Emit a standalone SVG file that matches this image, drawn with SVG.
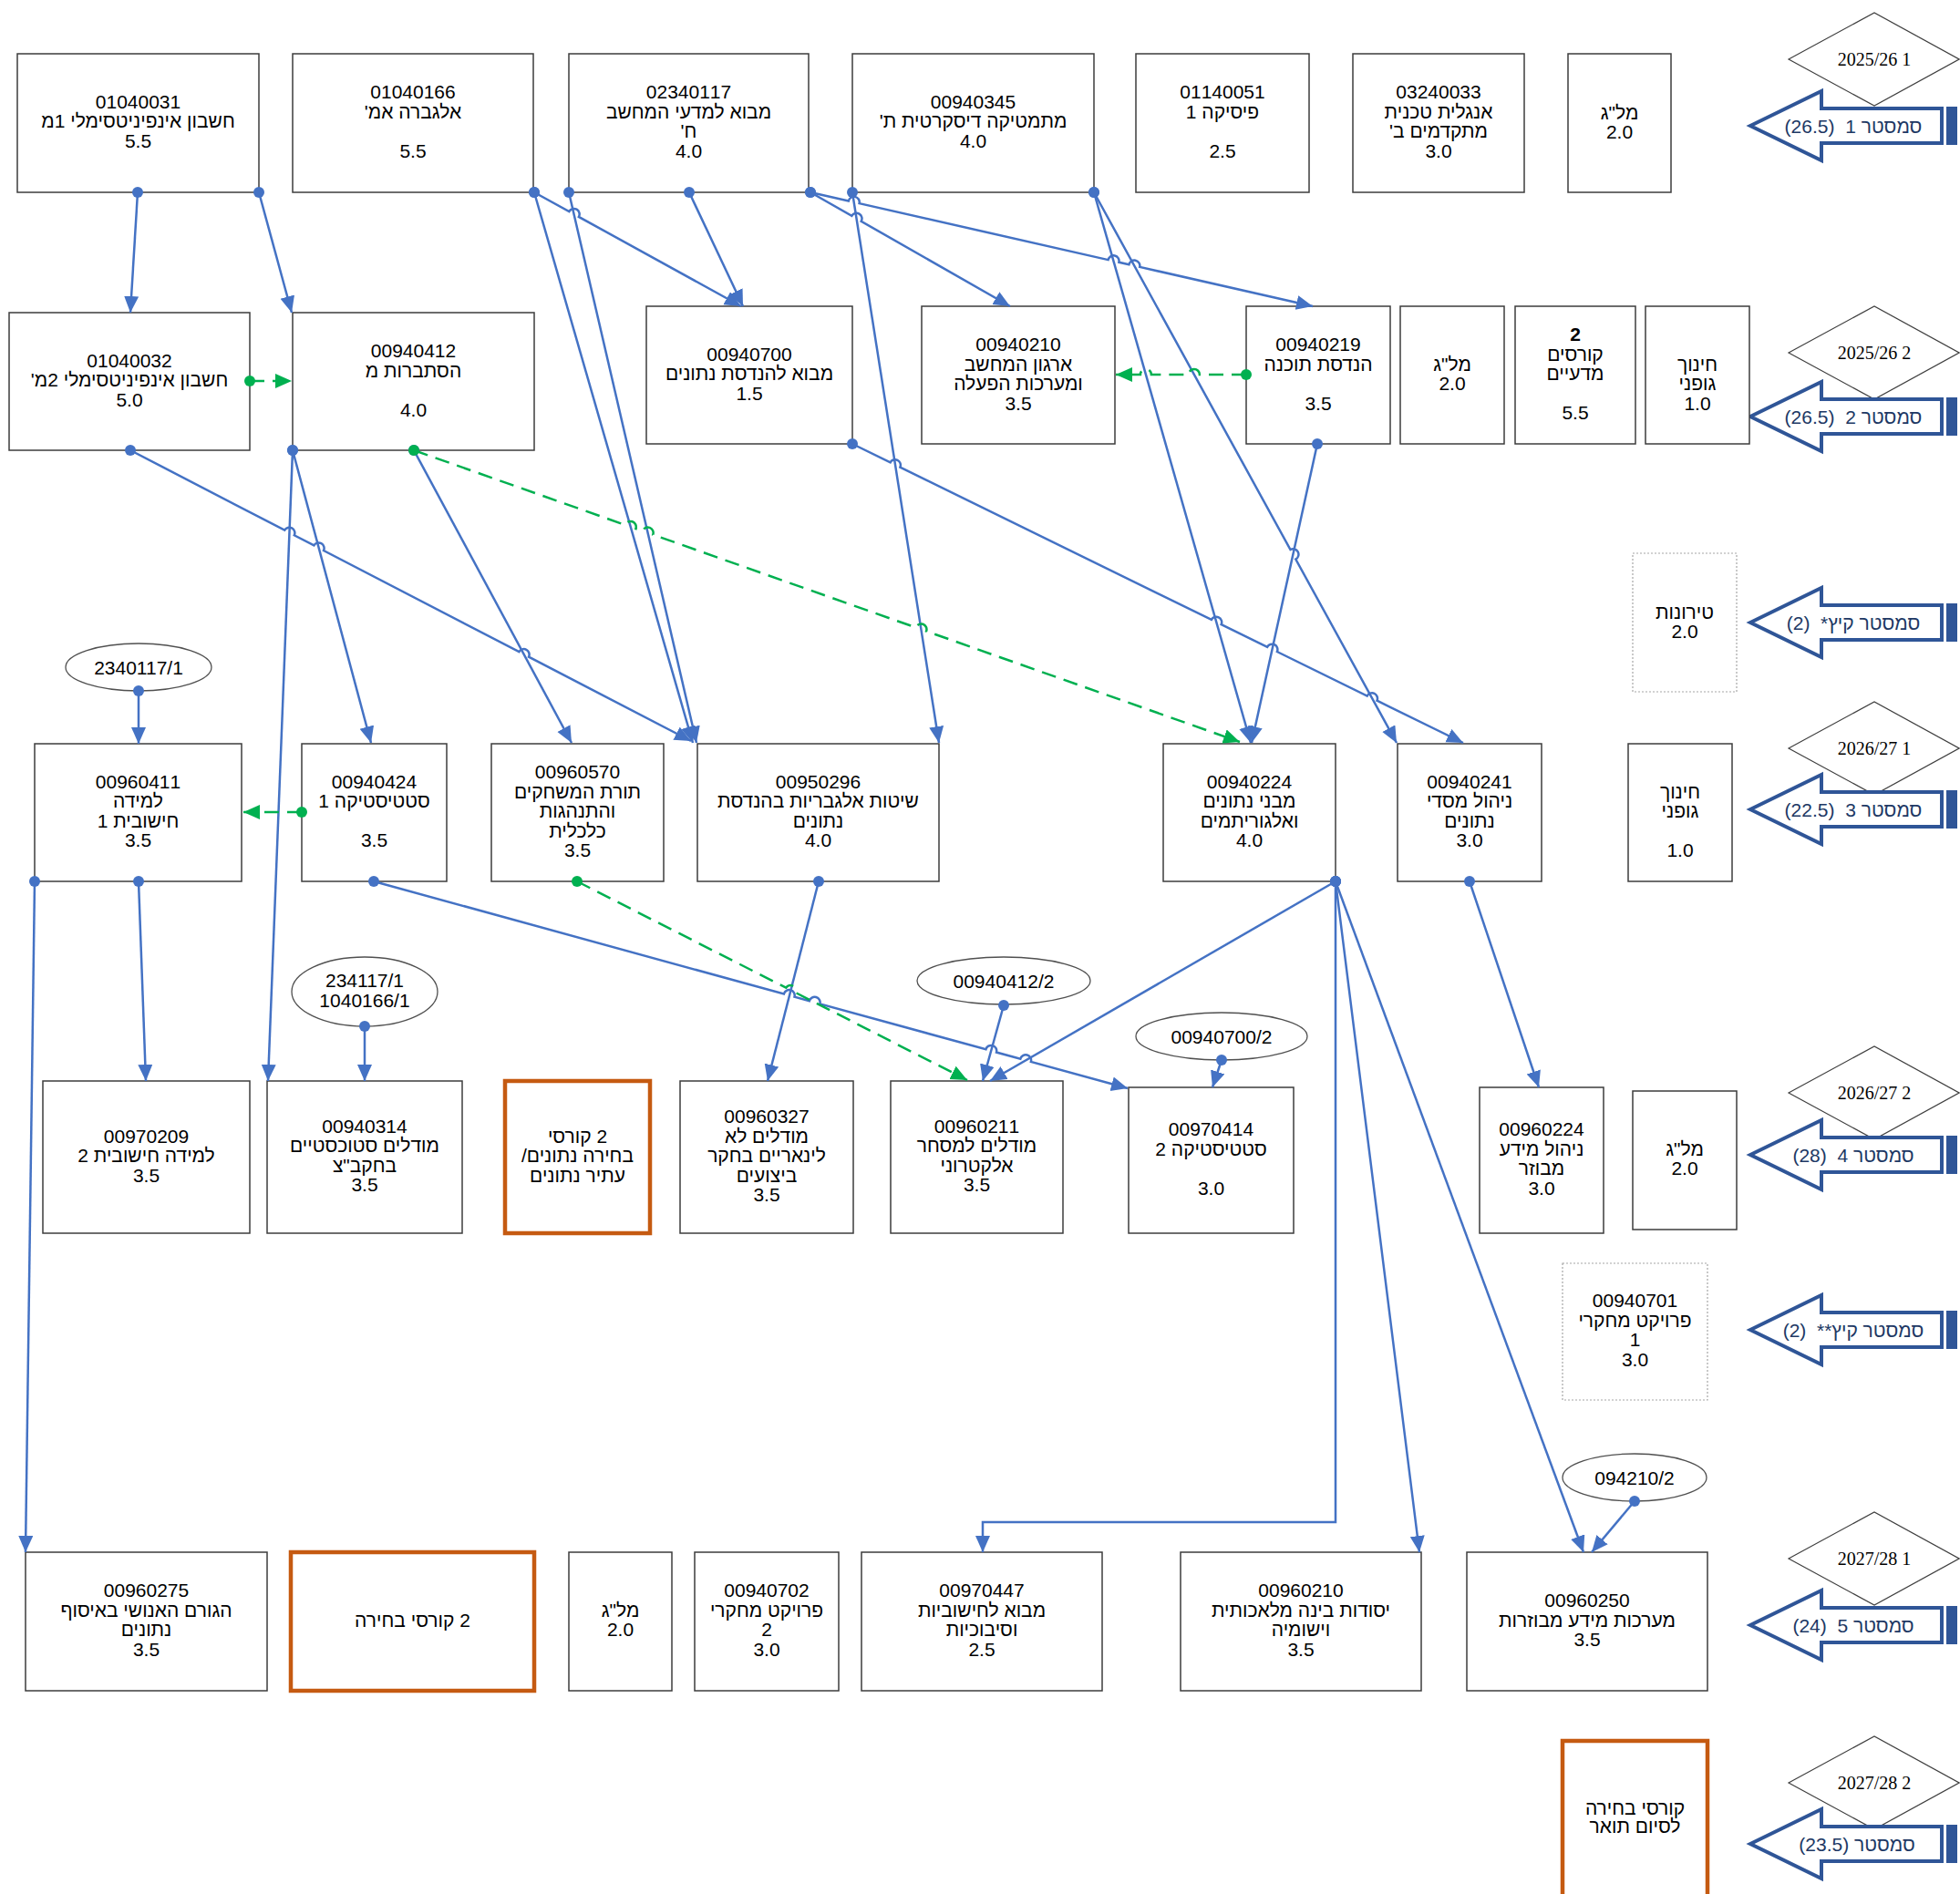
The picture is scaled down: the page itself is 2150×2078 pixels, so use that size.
<svg xmlns="http://www.w3.org/2000/svg" width="2150" height="2078" viewBox="0 0 2150 2078">
<style>
.b{fill:#fff;stroke:#3c3c3c;stroke-width:1.5}
.o{fill:#fff;stroke:#C55A11;stroke-width:4.5}
.d{fill:#fff;stroke:#a6a6a6;stroke-width:1.2;stroke-dasharray:2 2}
.t{font-family:"Liberation Sans",Arial,sans-serif;font-size:21px;fill:#000;text-anchor:middle;direction:rtl;unicode-bidi:embed}
.et{font-family:"Liberation Sans",Arial,sans-serif;font-size:21px;fill:#000;text-anchor:middle}
.bold{font-weight:bold}
.el{fill:#fff;stroke:#505050;stroke-width:1.3}
.c{fill:none;stroke:#4472C4;stroke-width:2.5;marker-start:url(#db);marker-end:url(#ab)}
.g{fill:none;stroke:#00B050;stroke-width:2.5;stroke-dasharray:16 9;marker-start:url(#dg);marker-end:url(#ag)}
.dm{fill:#fff;stroke:#404040;stroke-width:1.2}
.dt{font-family:"Liberation Serif","Times New Roman",serif;font-size:20px;fill:#000;text-anchor:middle}
.st{font-family:"Liberation Sans",Arial,sans-serif;font-size:21px;fill:#203864;text-anchor:middle;direction:rtl;unicode-bidi:embed;white-space:pre}
.ar{fill:#fff;stroke:#2F5597;stroke-width:4;stroke-linejoin:miter}
.arb{fill:#2F5597}
</style>
<defs>
<marker id="ab" markerUnits="userSpaceOnUse" markerWidth="20" markerHeight="18" refX="18" refY="8" orient="auto"><path d="M0,0 L18,8 L0,16 z" fill="#4472C4"/></marker>
<marker id="db" markerUnits="userSpaceOnUse" markerWidth="14" markerHeight="14" refX="7" refY="7"><circle cx="7" cy="7" r="6" fill="#4472C4"/></marker>
<marker id="ag" markerUnits="userSpaceOnUse" markerWidth="20" markerHeight="18" refX="18" refY="8" orient="auto"><path d="M0,0 L18,8 L0,16 z" fill="#00B050"/></marker>
<marker id="dg" markerUnits="userSpaceOnUse" markerWidth="14" markerHeight="14" refX="7" refY="7"><circle cx="7" cy="7" r="6" fill="#00B050"/></marker>
<g id="semArrow">
<polygon class="ar" points="1920,0 1998,-38 1998,-19 2130,-19 2130,19 1998,19 1998,38"/>
<rect class="arb" x="2135" y="-21" width="12" height="42"/>
</g>
<polygon id="dia" class="dm" points="1962,0 2056,-51 2149,0 2056,51"/>
</defs>

<rect x="0" y="0" width="2150" height="2078" fill="#fff"/>

<g id="semesters">
<use href="#dia" y="65"/><text class="dt" x="2056" y="72">2025/26 1</text>
<use href="#semArrow" y="138"/><text class="st" x="2033" y="145.5">סמסטר 1  (26.5)</text>
<use href="#dia" y="387"/><text class="dt" x="2056" y="394">2025/26 2</text>
<use href="#semArrow" y="457"/><text class="st" x="2033" y="464.5">סמסטר 2  (26.5)</text>
<use href="#semArrow" y="683"/><text class="st" x="2033" y="690.5">סמסטר קיץ*  (2)</text>
<use href="#dia" y="821"/><text class="dt" x="2056" y="828">2026/27 1</text>
<use href="#semArrow" y="888"/><text class="st" x="2033" y="895.5">סמסטר 3  (22.5)</text>
<use href="#dia" y="1199"/><text class="dt" x="2056" y="1206">2026/27 2</text>
<use href="#semArrow" y="1267"/><text class="st" x="2033" y="1274.5">סמסטר 4  (28)</text>
<use href="#semArrow" y="1459"/><text class="st" x="2033" y="1466.5">סמסטר קיץ**  (2)</text>
<use href="#dia" y="1710"/><text class="dt" x="2056" y="1717">2027/28 1</text>
<use href="#semArrow" y="1783"/><text class="st" x="2033" y="1790.5">סמסטר 5  (24)</text>
<use href="#dia" y="1956"/><text class="dt" x="2056" y="1963">2027/28 2</text>
<use href="#semArrow" y="2023"/><text class="st" x="2037" y="2030.5">סמסטר (23.5)</text>
</g>

<g id="n01040031"><rect class="b" x="19" y="59" width="265" height="152"/>
<text class="t"><tspan x="151.5" y="119">01040031</tspan><tspan x="151.5" y="140">חשבון אינפיניטסימלי 1מ</tspan><tspan x="151.5" y="162">5.5</tspan></text></g>
<g id="n01040166"><rect class="b" x="321" y="59" width="264" height="152"/>
<text class="t"><tspan x="453" y="108">01040166</tspan><tspan x="453" y="130">אלגברה אמ'</tspan><tspan x="453" y="173">5.5</tspan></text></g>
<g id="n02340117"><rect class="b" x="624" y="59" width="263" height="152"/>
<text class="t"><tspan x="755.5" y="108">02340117</tspan><tspan x="755.5" y="130">מבוא למדעי המחשב</tspan><tspan x="755.5" y="151">ח'</tspan><tspan x="755.5" y="173">4.0</tspan></text></g>
<g id="n00940345"><rect class="b" x="935" y="59" width="265" height="152"/>
<text class="t"><tspan x="1067.5" y="119">00940345</tspan><tspan x="1067.5" y="140">מתמטיקה דיסקרטית ת'</tspan><tspan x="1067.5" y="162">4.0</tspan></text></g>
<g id="n01140051"><rect class="b" x="1246" y="59" width="190" height="152"/>
<text class="t"><tspan x="1341" y="108">01140051</tspan><tspan x="1341" y="130">פיסיקה 1</tspan><tspan x="1341" y="173">2.5</tspan></text></g>
<g id="n03240033"><rect class="b" x="1484" y="59" width="188" height="152"/>
<text class="t"><tspan x="1578" y="108">03240033</tspan><tspan x="1578" y="130">אנגלית טכנית</tspan><tspan x="1578" y="151">מתקדמים ב'</tspan><tspan x="1578" y="173">3.0</tspan></text></g>
<g id="nMalag1"><rect class="b" x="1720" y="59" width="113" height="152"/>
<text class="t"><tspan x="1776.5" y="130.5">מל"ג</tspan><tspan x="1776.5" y="152">2.0</tspan></text></g>

<g id="n01040032"><rect class="b" x="10" y="343" width="264" height="151"/>
<text class="t"><tspan x="142" y="402.5">01040032</tspan><tspan x="142" y="424">חשבון אינפיניטסימלי 2מ'</tspan><tspan x="142" y="445.5">5.0</tspan></text></g>
<g id="n00940412"><rect class="b" x="321" y="343" width="265" height="151"/>
<text class="t"><tspan x="453.5" y="392">00940412</tspan><tspan x="453.5" y="413.5">הסתברות מ</tspan><tspan x="453.5" y="456.5">4.0</tspan></text></g>
<g id="n00940700"><rect class="b" x="709" y="336" width="226" height="151"/>
<text class="t"><tspan x="822" y="395.5">00940700</tspan><tspan x="822" y="417">מבוא להנדסת נתונים</tspan><tspan x="822" y="438.5">1.5</tspan></text></g>
<g id="n00940210"><rect class="b" x="1011" y="336" width="212" height="151"/>
<text class="t"><tspan x="1117" y="385">00940210</tspan><tspan x="1117" y="406.5">ארגון המחשב</tspan><tspan x="1117" y="428">ומערכות הפעלה</tspan><tspan x="1117" y="449.5">3.5</tspan></text></g>
<g id="n00940219"><rect class="b" x="1367" y="336" width="158" height="151"/>
<text class="t"><tspan x="1446" y="385">00940219</tspan><tspan x="1446" y="406.5">הנדסת תוכנה</tspan><tspan x="1446" y="449.5">3.5</tspan></text></g>
<g id="nMalag2"><rect class="b" x="1536" y="336" width="114" height="151"/>
<text class="t"><tspan x="1593" y="406.5">מל"ג</tspan><tspan x="1593" y="428">2.0</tspan></text></g>
<g id="nScience"><rect class="b" x="1662" y="336" width="132" height="151"/>
<text class="t"><tspan class="bold" x="1728" y="374">2</tspan><tspan x="1728" y="395.5">קורסים</tspan><tspan x="1728" y="417">מדעיים</tspan><tspan x="1728" y="460">5.5</tspan></text></g>
<g id="nSport1"><rect class="b" x="1805" y="336" width="114" height="151"/>
<text class="t"><tspan x="1862" y="406.5">חינוך</tspan><tspan x="1862" y="428">גופני</tspan><tspan x="1862" y="449.5">1.0</tspan></text></g>

<g id="nTironut"><rect class="d" x="1791" y="607" width="114" height="152"/>
<text class="t"><tspan x="1848" y="679">טירונות</tspan><tspan x="1848" y="700">2.0</tspan></text></g>

<g id="e2340117"><ellipse class="el" cx="152" cy="732" rx="80" ry="26"/>
<text class="et" x="152" y="739.5">2340117/1</text></g>

<g id="n00960411"><rect class="b" x="38" y="816" width="227" height="151"/>
<text class="t"><tspan x="151.5" y="864.8">00960411</tspan><tspan x="151.5" y="886.3">למידה</tspan><tspan x="151.5" y="907.8">חישובית 1</tspan><tspan x="151.5" y="929.3">3.5</tspan></text></g>
<g id="n00940424"><rect class="b" x="331" y="816" width="159" height="151"/>
<text class="t"><tspan x="410.5" y="864.8">00940424</tspan><tspan x="410.5" y="886.3">סטטיסטיקה 1</tspan><tspan x="410.5" y="929.3">3.5</tspan></text></g>
<g id="n00960570"><rect class="b" x="539" y="816" width="189" height="151"/>
<text class="t"><tspan x="633.5" y="854">00960570</tspan><tspan x="633.5" y="875.5">תורת המשחקים</tspan><tspan x="633.5" y="897">והתנהגות</tspan><tspan x="633.5" y="918.5">כלכלית</tspan><tspan x="633.5" y="940">3.5</tspan></text></g>
<g id="n00950296"><rect class="b" x="765" y="816" width="265" height="151"/>
<text class="t"><tspan x="897.5" y="864.8">00950296</tspan><tspan x="897.5" y="886.3">שיטות אלגבריות בהנדסת</tspan><tspan x="897.5" y="907.8">נתונים</tspan><tspan x="897.5" y="929.3">4.0</tspan></text></g>
<g id="n00940224"><rect class="b" x="1276" y="816" width="189" height="151"/>
<text class="t"><tspan x="1370.5" y="864.8">00940224</tspan><tspan x="1370.5" y="886.3">מבני נתונים</tspan><tspan x="1370.5" y="907.8">ואלגוריתמים</tspan><tspan x="1370.5" y="929.3">4.0</tspan></text></g>
<g id="n00940241"><rect class="b" x="1533" y="816" width="158" height="151"/>
<text class="t"><tspan x="1612" y="864.8">00940241</tspan><tspan x="1612" y="886.3">ניהול מסדי</tspan><tspan x="1612" y="907.8">נתונים</tspan><tspan x="1612" y="929.3">3.0</tspan></text></g>
<g id="nSport2"><rect class="b" x="1786" y="816" width="114" height="151"/>
<text class="t"><tspan x="1843" y="875.5">חינוך</tspan><tspan x="1843" y="896.5">גופני</tspan><tspan x="1843" y="939.5">1.0</tspan></text></g>

<g id="e234117"><ellipse class="el" cx="400" cy="1088" rx="80" ry="38"/>
<text class="et"><tspan x="400" y="1082.5">234117/1</tspan><tspan x="400" y="1104.5">1040166/1</tspan></text></g>
<g id="e00940412"><ellipse class="el" cx="1101" cy="1076" rx="95" ry="26"/>
<text class="et" x="1101" y="1083.5">00940412/2</text></g>
<g id="e00940700"><ellipse class="el" cx="1340" cy="1137" rx="94" ry="26"/>
<text class="et" x="1340" y="1144.5">00940700/2</text></g>

<g id="n00970209"><rect class="b" x="47" y="1186" width="227" height="167"/>
<text class="t"><tspan x="160.5" y="1253.5">00970209</tspan><tspan x="160.5" y="1275">למידה חישובית 2</tspan><tspan x="160.5" y="1296.5">3.5</tspan></text></g>
<g id="n00940314"><rect class="b" x="293" y="1186" width="214" height="167"/>
<text class="t"><tspan x="400" y="1242.8">00940314</tspan><tspan x="400" y="1264.3">מודלים סטוכסטיים</tspan><tspan x="400" y="1285.8">בחקב"צ</tspan><tspan x="400" y="1307.3">3.5</tspan></text></g>
<g id="nElective1"><rect class="o" x="554" y="1186" width="159" height="167"/>
<text class="t"><tspan x="633.5" y="1253.5">2 קורסי</tspan><tspan x="633.5" y="1275">בחירה נתונים/</tspan><tspan x="633.5" y="1296.5">עתיר נתונים</tspan></text></g>
<g id="n00960327"><rect class="b" x="746" y="1186" width="190" height="167"/>
<text class="t"><tspan x="841" y="1232">00960327</tspan><tspan x="841" y="1253.5">מודלים לא</tspan><tspan x="841" y="1275">לינאריים בחקר</tspan><tspan x="841" y="1296.5">ביצועים</tspan><tspan x="841" y="1318">3.5</tspan></text></g>
<g id="n00960211"><rect class="b" x="977" y="1186" width="189" height="167"/>
<text class="t"><tspan x="1071.5" y="1242.8">00960211</tspan><tspan x="1071.5" y="1264.3">מודלים למסחר</tspan><tspan x="1071.5" y="1285.8">אלקטרוני</tspan><tspan x="1071.5" y="1307.3">3.5</tspan></text></g>
<g id="n00970414"><rect class="b" x="1238" y="1193" width="181" height="160"/>
<text class="t"><tspan x="1328.5" y="1246.3">00970414</tspan><tspan x="1328.5" y="1267.8">סטטיסטיקה 2</tspan><tspan x="1328.5" y="1310.8">3.0</tspan></text></g>
<g id="n00960224"><rect class="b" x="1623" y="1193" width="136" height="160"/>
<text class="t"><tspan x="1691" y="1246.3">00960224</tspan><tspan x="1691" y="1267.8">ניהול מידע</tspan><tspan x="1691" y="1289.3">מבוזר</tspan><tspan x="1691" y="1310.8">3.0</tspan></text></g>
<g id="nMalag3"><rect class="b" x="1791" y="1197" width="114" height="152"/>
<text class="t"><tspan x="1848" y="1267.8">מל"ג</tspan><tspan x="1848" y="1289.3">2.0</tspan></text></g>

<g id="n00940701"><rect class="d" x="1714" y="1386" width="159" height="150"/>
<text class="t"><tspan x="1793.5" y="1434.3">00940701</tspan><tspan x="1793.5" y="1455.8">פרויקט מחקרי</tspan><tspan x="1793.5" y="1477.3">1</tspan><tspan x="1793.5" y="1498.8">3.0</tspan></text></g>

<g id="e094210"><ellipse class="el" cx="1793" cy="1621" rx="79" ry="26"/>
<text class="et" x="1793" y="1628.5">094210/2</text></g>

<g id="n00960275"><rect class="b" x="28" y="1703" width="265" height="152"/>
<text class="t"><tspan x="160.5" y="1752.3">00960275</tspan><tspan x="160.5" y="1773.8">הגורם האנושי באיסוף</tspan><tspan x="160.5" y="1795.3">נתונים</tspan><tspan x="160.5" y="1816.8">3.5</tspan></text></g>
<g id="nElective2"><rect class="o" x="319" y="1703" width="267" height="152"/>
<text class="t" x="452.5" y="1784.5">2 קורסי בחירה</text></g>
<g id="nMalag4"><rect class="b" x="624" y="1703" width="113" height="152"/>
<text class="t"><tspan x="680.5" y="1773.8">מל"ג</tspan><tspan x="680.5" y="1795.3">2.0</tspan></text></g>
<g id="n00940702"><rect class="b" x="762" y="1703" width="158" height="152"/>
<text class="t"><tspan x="841" y="1752.3">00940702</tspan><tspan x="841" y="1773.8">פרויקט מחקרי</tspan><tspan x="841" y="1795.3">2</tspan><tspan x="841" y="1816.8">3.0</tspan></text></g>
<g id="n00970447"><rect class="b" x="945" y="1703" width="264" height="152"/>
<text class="t"><tspan x="1077" y="1752.3">00970447</tspan><tspan x="1077" y="1773.8">מבוא לחישוביות</tspan><tspan x="1077" y="1795.3">וסיבוכיות</tspan><tspan x="1077" y="1816.8">2.5</tspan></text></g>
<g id="n00960210"><rect class="b" x="1295" y="1703" width="264" height="152"/>
<text class="t"><tspan x="1427" y="1752.3">00960210</tspan><tspan x="1427" y="1773.8">יסודות בינה מלאכותית</tspan><tspan x="1427" y="1795.3">וישומיה</tspan><tspan x="1427" y="1816.8">3.5</tspan></text></g>
<g id="n00960250"><rect class="b" x="1609" y="1703" width="264" height="152"/>
<text class="t"><tspan x="1741" y="1763">00960250</tspan><tspan x="1741" y="1784.5">מערכות מידע מבוזרות</tspan><tspan x="1741" y="1806">3.5</tspan></text></g>

<g id="nElective3"><rect class="o" x="1714" y="1910" width="159" height="175"/>
<text class="t"><tspan x="1793.5" y="1990.5">קורסי בחירה</tspan><tspan x="1793.5" y="2011">לסיום תואר</tspan></text></g>

<g id="connectors">
<path class="c" d="M151,211 L143,343"/>
<path class="c" d="M284,211 L320,343"/>
<path class="c" d="M586,211 L624.3,232.1 A6,6 0 0 1 634.9,237.9 L813,336"/>
<path class="c" d="M586,211 L760,815"/>
<path class="c" d="M624,211 L764,815"/>
<path class="c" d="M756,211 L815,336"/>
<path class="c" d="M889,211 L934.3,236.8 A6,6 0 0 1 944.7,242.8 L1108,336"/>
<path class="c" d="M889,211 L930.8,220.5 A6,6 0 0 1 942.6,223.1 L1215.6,285.1 A6,6 0 0 1 1227.4,287.7 L1238.4,290.3 A6,6 0 0 1 1250.2,292.9 L1440,336"/>
<path class="c" d="M935,211 L1030,815"/>
<path class="c" d="M1200,211 L1372,815"/>
<path class="c" d="M1200,211 L1415.5,603 A6,6 0 0 1 1421.3,613.6 L1532,815"/>
<path class="c" d="M143,494 L312.2,581.7 A6,6 0 0 1 322.8,587.3 L344.4,598.4 A6,6 0 0 1 355,604 L569.4,715.1 A6,6 0 0 1 580,720.7 L758,813"/>
<path class="c" d="M321,494 L407,815"/>
<path class="c" d="M321,494 L294,1186"/>
<path class="c" d="M454,494 L627,815"/>
<path class="c" d="M935,487 L976.6,507.4 A6,6 0 0 1 987.4,512.6 L1328.9,679.9 A6,6 0 0 1 1339.7,685.1 L1390.1,709.8 A6,6 0 0 1 1400.9,715 L1499.7,763.5 A6,6 0 0 1 1510.5,768.7 L1605,815"/>
<path class="c" d="M1445,487 L1373,815"/>
<path class="c" d="M152,758 L152,816"/>
<path class="c" d="M38,967 L28,1703"/>
<path class="c" d="M152,967 L160,1186"/>
<path class="c" d="M400,1126 L400,1186"/>
<path class="c" d="M410,967 L859.9,1090.5 A6,6 0 0 1 871.5,1093.7 L887.8,1098.2 A6,6 0 0 1 899.4,1101.4 L1081.4,1151.3 A6,6 0 0 1 1093,1154.5 L1119.3,1161.7 A6,6 0 0 1 1130.9,1164.9 L1237,1194"/>
<path class="c" d="M898,967 L842,1186"/>
<path class="c" d="M1101,1103 L1078,1186"/>
<path class="c" d="M1465,967 L1086,1186"/>
<path class="c" d="M1340,1163 L1330,1193"/>
<path class="c" d="M1612,967 L1688,1193"/>
<path class="c" d="M1465,967 L1465,1670 L1078,1670 L1078,1703"/>
<path class="c" d="M1465,967 L1557,1703"/>
<path class="c" d="M1465,967 L1737,1703"/>
<path class="c" d="M1793,1647 L1746,1703"/>
<path class="g" d="M274,418 L320,418"/>
<path class="g" d="M1367,411 L1315.9,411 A6,6 0 0 0 1303.9,411 L1262.9,411 A6,6 0 0 0 1250.9,411 L1224,411"/>
<path class="g" d="M454,494 L686,576 A6,6 0 0 1 697.4,580 L704.9,582.6 A6,6 0 0 1 716.3,586.6 L1004.7,688.5 A6,6 0 0 1 1016.1,692.5 L1360,814"/>
<path class="g" d="M331,891 L267,891"/>
<path class="g" d="M633,967 L862.2,1083.7 A6,6 0 0 1 872.8,1089.1 L1061,1185"/>
</g>
</svg>
